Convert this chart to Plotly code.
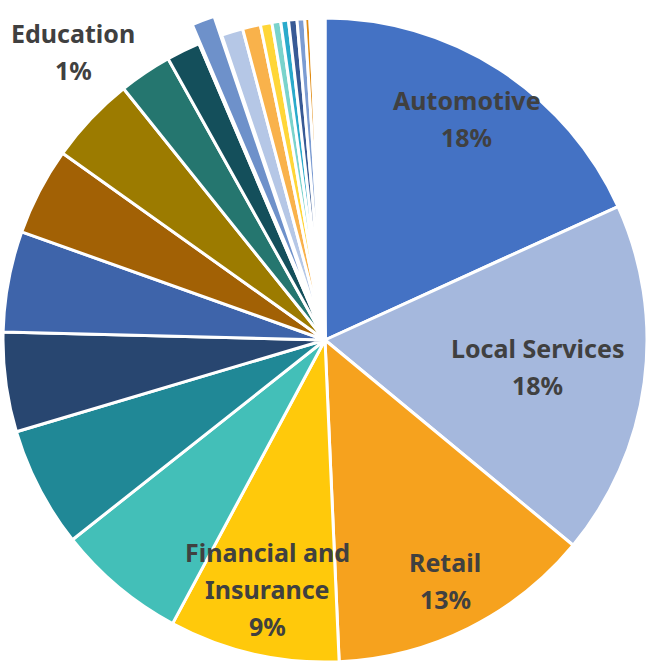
import numpy as np
import plotly.graph_objects as go

# Share of ad spend by industry, in percent, clockwise from 12 o'clock
categories = [
    "Automotive", "Local Services", "Retail", "Financial and Insurance",
    "Health and Medical", "Home Services", "Restaurants", "Beauty and Fitness",
    "Real Estate", "Travel", "Professional Services", "Legal", "Education",
    "Technology", "Events", "Pets", "Arts and Entertainment", "Nightlife",
    "Mass Media", "Public Services", "Religious Organizations", "Government",
    "Nonprofit", "Agriculture", "Energy", "Manufacturing", "Other",
]
values = [
    18.2, 17.8, 13.3, 8.55,
    6.5, 6.05, 5.0, 5.05,
    4.4, 4.4, 2.65, 1.7, 1.2,
    1.08, 0.9, 0.58, 0.44, 0.39,
    0.42, 0.39, 0.25, 0.12,
    0.13, 0.13, 0.13, 0.12, 0.12,
]
colors = [
    "#4472C4", "#A5B8DD", "#F6A21E", "#FFC90B",
    "#43BFB8", "#208896", "#284670", "#3E64AA",
    "#A26105", "#9C7B00", "#25766F", "#144F5B", "#6E91CA",
    "#B5C7E6", "#F9B24B", "#FFD638", "#7AD3CC", "#2AAACB",
    "#385A95", "#7C9CD2", "#E08A10", "#FFE8A3",
    "#1F6B7A", "#BF8F00", "#4A7BB0", "#9DC3E6", "#F4B183",
]

# Slices that carry a data label, with the label's display lines
labelled = {
    "Automotive": ["Automotive"],
    "Local Services": ["Local Services"],
    "Retail": ["Retail"],
    "Financial and Insurance": ["Financial and", "Insurance"],
    "Education": ["Education"],
}
exploded = "Education"

# ---- layout constants (pixels) ----
W, H = 649, 662
CX, CY, R = 325.0, 340.0, 322.0
GAP = 3
PULL_PX = 33
LINE_GAP = 37
TEXT_DY = -1.5
FONT = dict(family="Noto Sans", size=25, color="#404040", weight="bold")

# radial placement of each label as a fraction of the radius;
# the exploded slice's label sits outside the pie at its own angle
label_radius = {
    "Automotive": 0.813,
    "Local Services": 0.667,
    "Retail": 0.839,
    "Financial and Insurance": 0.797,
    "Education": 1.186,
}
label_angle_override = {"Education": 318.8}

vals = np.array(values, dtype=float)
total = vals.sum()
ends = np.cumsum(vals) / total * 360.0
starts = ends - vals / total * 360.0
mids = (starts + ends) / 2.0

edu = categories.index(exploded)

fig = go.Figure()

# Whole pie; the exploded slice is left blank here and drawn separately
main_colors = list(colors)
main_colors[edu] = "white"
fig.add_trace(go.Pie(
    labels=categories,
    values=values,
    sort=False,
    direction="clockwise",
    rotation=0,
    marker=dict(colors=main_colors, line=dict(color="white", width=GAP)),
    textinfo="none",
    hoverinfo="skip",
    showlegend=False,
    domain=dict(x=[(CX - R) / W, (CX + R) / W],
                y=[1 - (CY + R) / H, 1 - (CY - R) / H]),
))

# Exploded slice: same angular span, centre shifted outward along its bisector
th = np.radians(mids[edu])
ex = CX + PULL_PX * np.sin(th)
ey = CY - PULL_PX * np.cos(th)
rb = min(ex, ey, W - ex, H - ey)
before = vals[:edu].sum()
after = vals[edu + 1:].sum()
fig.add_trace(go.Pie(
    labels=["_before", exploded, "_after"],
    values=[before, vals[edu], after],
    sort=False,
    direction="clockwise",
    rotation=0,
    marker=dict(colors=["rgba(0,0,0,0)", colors[edu], "rgba(0,0,0,0)"],
                line=dict(color="white", width=[0, GAP, 0])),
    textinfo="none",
    hoverinfo="skip",
    showlegend=False,
    domain=dict(x=[(ex - rb) / W, (ex + rb) / W],
                y=[1 - (ey + rb) / H, 1 - (ey - rb) / H]),
))

# Data labels: category name and rounded share
annotations = []
for name, lines in labelled.items():
    i = categories.index(name)
    ang = np.radians(label_angle_override.get(name, mids[i]))
    rad = label_radius[name] * R
    bx = CX + rad * np.sin(ang)
    by = CY - rad * np.cos(ang) + TEXT_DY
    pct = f"{vals[i] / total:.0%}"
    all_lines = lines + [pct]
    n = len(all_lines)
    for k, txt in enumerate(all_lines):
        ly = by + (k - (n - 1) / 2) * LINE_GAP
        annotations.append(dict(
            x=bx / W, y=1 - ly / H, xref="paper", yref="paper",
            text=txt, showarrow=False, font=FONT,
            xanchor="center", yanchor="middle",
        ))

fig.update_layout(
    width=W, height=H,
    margin=dict(l=0, r=0, t=0, b=0),
    paper_bgcolor="white",
    plot_bgcolor="white",
    showlegend=False,
    annotations=annotations,
)

fig.write_html("out.html")
